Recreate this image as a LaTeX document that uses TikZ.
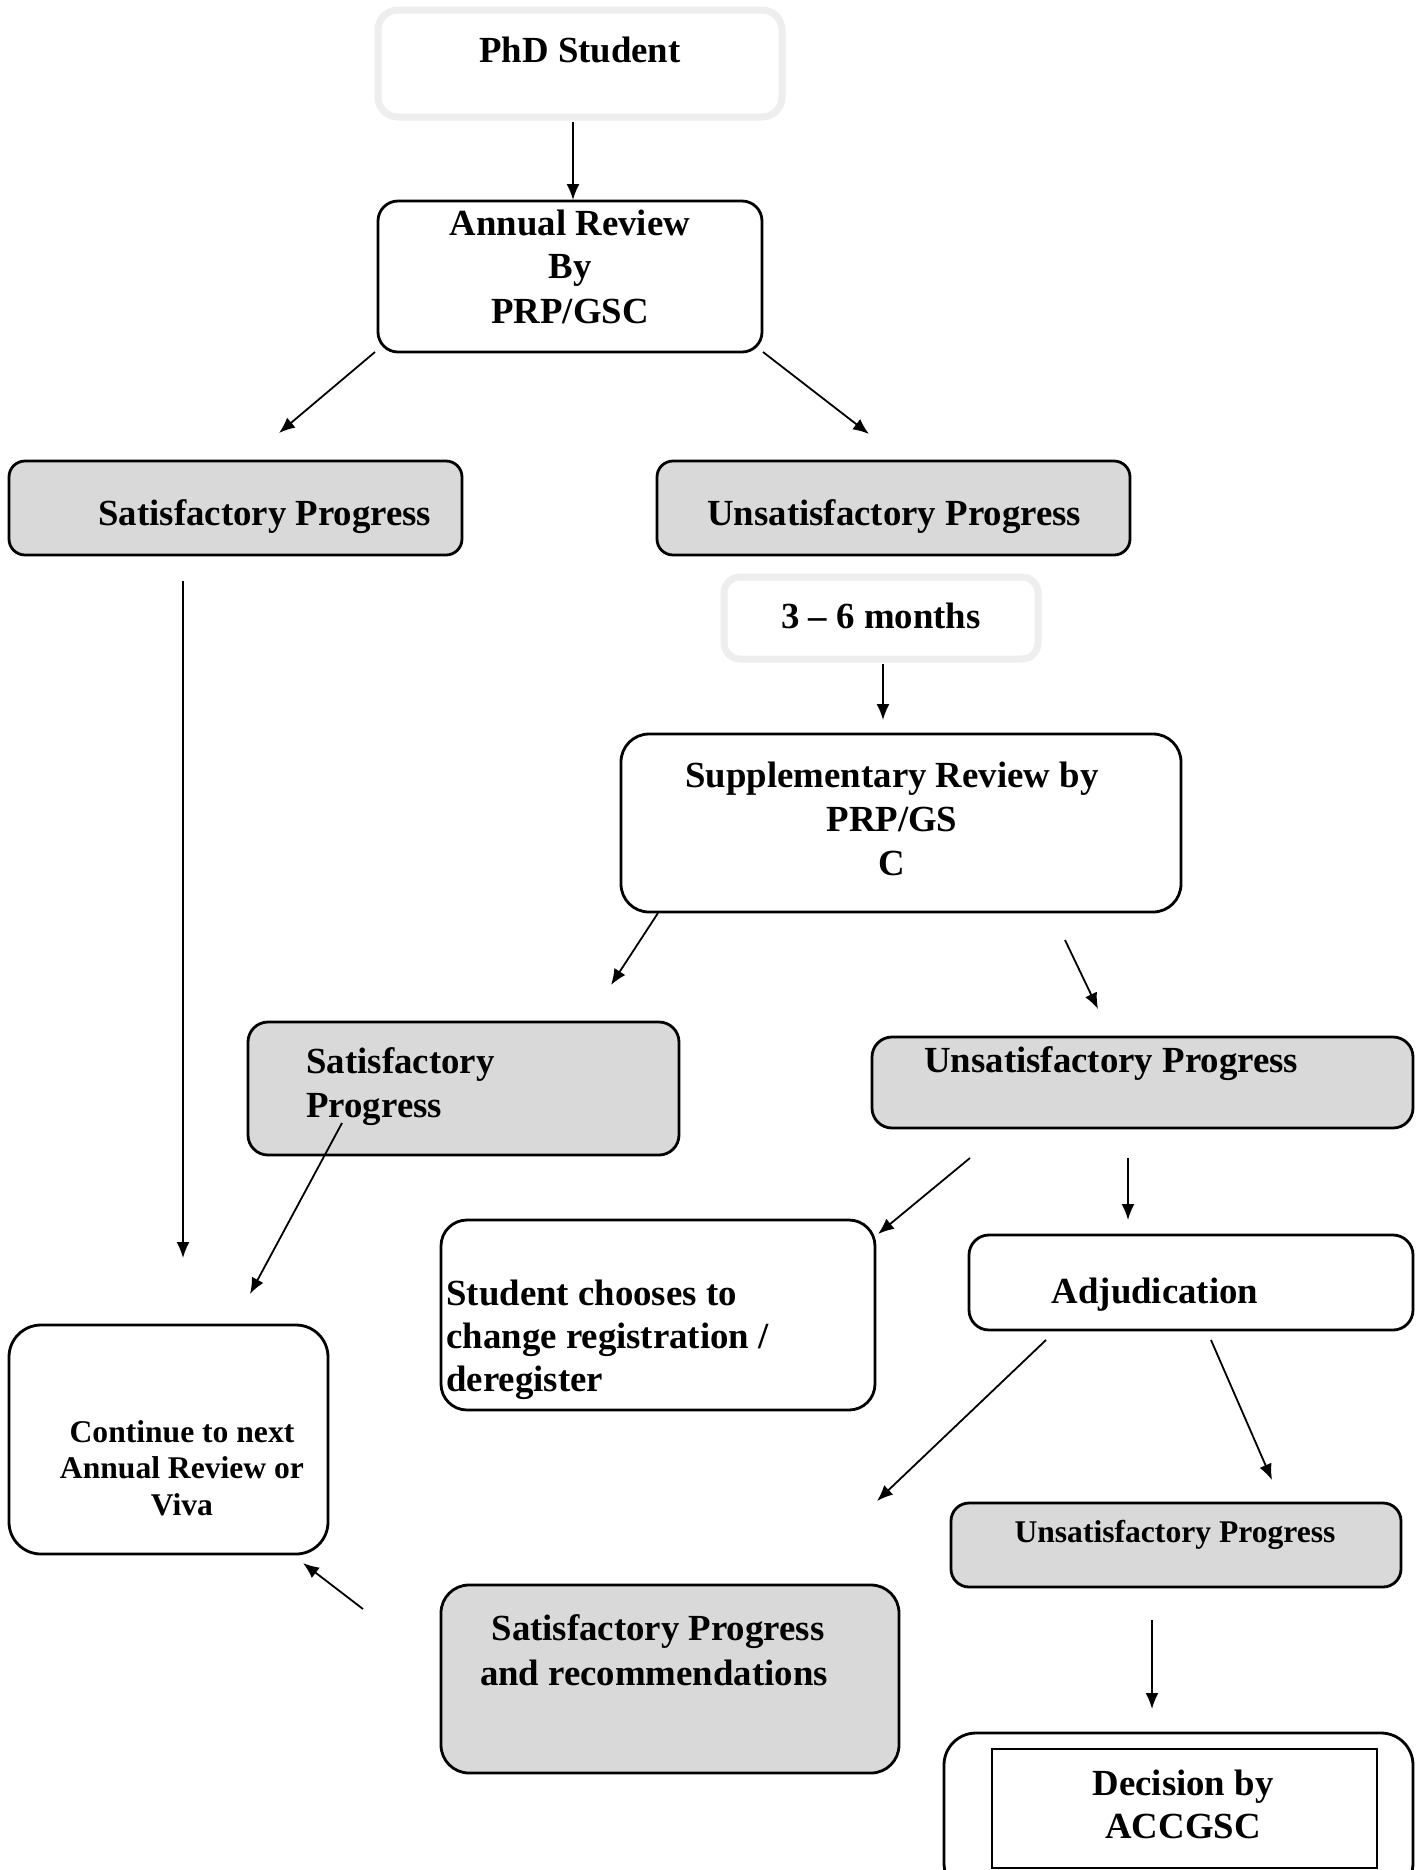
\documentclass[tikz,border=0pt]{standalone}
\usepackage{fontspec}
\setmainfont{Liberation Serif}
\usetikzlibrary{arrows.meta,fit}
\definecolor{boxgray}{HTML}{D9D9D9}
\definecolor{faint}{HTML}{EEEEEE}
\tikzset{
  box/.style={draw=black, line width=1.4pt, rounded corners=10pt, inner sep=0pt},
  graybox/.style={box, fill=boxgray},
  faintbox/.style={draw=faint, line width=3.5pt, rounded corners=10pt, inner sep=0pt},
  conn/.style={line width=0.9pt, -{Latex[length=8pt,width=6.5pt]}},
  big/.style={font=\fontsize{18.4}{22}\selectfont\bfseries, inner sep=0pt},
  small/.style={font=\fontsize{15.8}{18}\selectfont\bfseries, inner sep=0pt},
}
\begin{document}
\begin{tikzpicture}[x=0.5pt,y=-0.5pt]
\clip (0,0) rectangle (1418,1870);
\fill[white] (0,0) rectangle (1418,1870);

% boxes
\node[faintbox, fit={(378,10) (782,117)}] (phd) {};
\node[box, fit={(378,201) (762,352)}] (annual) {};
\node[graybox, rounded corners=8pt, fit={(9,461) (462,555)}] (sat1) {};
\node[graybox, rounded corners=8pt, fit={(657,461) (1130,555)}] (unsat1) {};
\node[faintbox, rounded corners=8pt, fit={(724,577) (1038,659)}] (months) {};
\node[box, rounded corners=14pt, fit={(621,734) (1181,912)}] (supp) {};
\node[graybox, rounded corners=10pt, fit={(248,1022) (679,1155)}] (sat2) {};
\node[graybox, rounded corners=10pt, fit={(872,1037) (1413,1128)}] (unsat2) {};
\node[box, rounded corners=13pt, fit={(441,1220) (875,1410)}] (student) {};
\node[box, rounded corners=10pt, fit={(969,1235) (1413,1330)}] (adj) {};
\node[box, rounded corners=16pt, fit={(9,1325) (328,1554)}] (cont) {};
\node[graybox, rounded corners=9pt, fit={(951,1503) (1401,1587)}] (unsat3) {};
\node[graybox, rounded corners=14pt, fit={(441,1585) (899,1773)}] (satrec) {};
\node[box, rounded corners=16pt, fit={(944,1733) (1413,1895)}] (decout) {};
\node[draw=black, line width=1pt, inner sep=0pt, fit={(992,1749) (1377,1868)}] (decin) {};

% texts
\node[big, anchor=base] (tphd) at (580,62) {PhD Student};
\node[big, anchor=base] (tann1) at (570,235) {Annual Review};
\node[big, anchor=base] (tann2) at (570,278) {By};
\node[big, anchor=base] (tann3) at (570,323) {PRP/GSC};
\node[big, anchor=base west] (tsat1) at (98,525) {Satisfactory Progress};
\node[big, anchor=base west] (tunsat1) at (707,525) {Unsatisfactory Progress};
\node[big, anchor=base] (tmonths) at (881,628) {3 – 6 months};
\node[big, anchor=base] (tsupp1) at (892,787) {Supplementary Review by};
\node[big, anchor=base] (tsupp2) at (892,831) {PRP/GS};
\node[big, anchor=base] (tsupp3) at (892,875) {C};
\node[big, anchor=base west] (tsat2a) at (306,1073) {Satisfactory};
\node[big, anchor=base west] (tsat2b) at (306,1117) {Progress};
\node[big, anchor=base west] (tunsat2) at (924,1072) {Unsatisfactory Progress};
\node[big, anchor=base west] (tstu1) at (446,1305) {Student chooses to};
\node[big, anchor=base west] (tstu2) at (446,1348) {change registration /};
\node[big, anchor=base west] (tstu3) at (446,1391) {deregister};
\node[big, anchor=base] (tadj) at (1155,1303) {Adjudication};
\node[small, anchor=base] (tcont1) at (182,1442) {Continue to next};
\node[small, anchor=base] (tcont2) at (182,1478) {Annual Review or};
\node[small, anchor=base] (tcont3) at (182,1515) {Viva};
\node[small, anchor=base] (tunsat3) at (1175,1542) {Unsatisfactory Progress};
\node[big, anchor=base] (tsatrec1) at (658,1640) {Satisfactory Progress};
\node[big, anchor=base] (tsatrec2) at (654,1685) {and recommendations};
\node[big, anchor=base] (tdec1) at (1183,1795) {Decision by};
\node[big, anchor=base] (tdec2) at (1183,1838) {ACCGSC};

% connector end points
\coordinate (a1s) at (573,122);   \coordinate (a1e) at (573,200);
\coordinate (a2s) at (375,352);   \coordinate (a2e) at (279,433);
\coordinate (a3s) at (763,352);   \coordinate (a3e) at (869,434);
\coordinate (a4s) at (883,664);   \coordinate (a4e) at (883,720);
\coordinate (a5s) at (658,913);   \coordinate (a5e) at (611,985);
\coordinate (a6s) at (1065,940);  \coordinate (a6e) at (1098,1009);
\coordinate (a7s) at (183,581);   \coordinate (a7e) at (183,1258);
\coordinate (a8s) at (342,1123);  \coordinate (a8e) at (250,1294);
\coordinate (a9s) at (970,1158);  \coordinate (a9e) at (878,1234);
\coordinate (a10s) at (1128,1158); \coordinate (a10e) at (1128,1220);
\coordinate (a11s) at (1046,1340); \coordinate (a11e) at (877,1501);
\coordinate (a12s) at (1211,1340); \coordinate (a12e) at (1272,1480);
\coordinate (a13s) at (363,1609); \coordinate (a13e) at (303,1563);
\coordinate (a14s) at (1152,1620); \coordinate (a14e) at (1152,1709);

\draw[conn] (a1s) -- (a1e);
\draw[conn] (a2s) -- (a2e);
\draw[conn] (a3s) -- (a3e);
\draw[conn] (a4s) -- (a4e);
\draw[conn] (a5s) -- (a5e);
\draw[conn] (a6s) -- (a6e);
\draw[conn] (a7s) -- (a7e);
\draw[conn] (a8s) -- (a8e);
\draw[conn] (a9s) -- (a9e);
\draw[conn] (a10s) -- (a10e);
\draw[conn] (a11s) -- (a11e);
\draw[conn] (a12s) -- (a12e);
\draw[conn] (a13s) -- (a13e);
\draw[conn] (a14s) -- (a14e);
\end{tikzpicture}
\end{document}
